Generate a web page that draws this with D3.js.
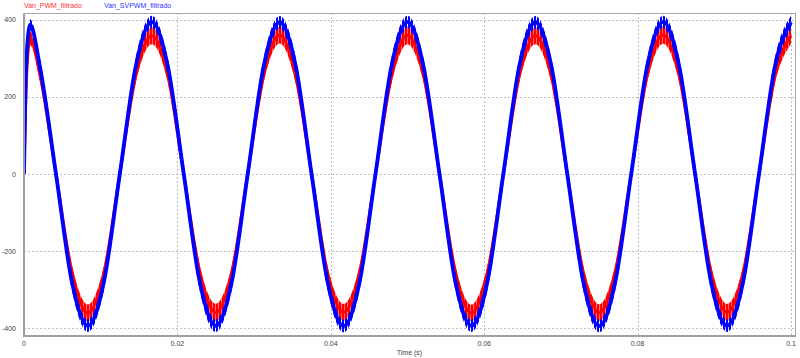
<!DOCTYPE html>
<html lang="en">
<head>
  <meta charset="UTF-8">
  <title>Van PWM vs SVPWM filtrado</title>
  <style>
      body { margin: 0; background: #fff; }
      text { font-family: "Liberation Sans", Arial, sans-serif; }
      .grid line {
          stroke: #bdbdbd;
          stroke-dasharray: 2,2;
          shape-rendering: crispEdges;
      }
      .tick-label { font-size: 7px; fill: #444; }
  </style>
</head>
<body>
<div id="chart"></div>
<script src="https://d3js.org/d3.v7.min.js"></script>
<script>
  // time samples (s)
  const timeS = [0, 0.0003, 0.0008,
    0.00208, 0.00417, 0.00625, 0.00833, 0.01042, 0.0125, 0.01458,
    0.01667, 0.01875, 0.02083, 0.02292, 0.025, 0.02708, 0.02917, 0.03125,
    0.03333, 0.03542, 0.0375, 0.03958, 0.04167, 0.04375, 0.04583, 0.04792,
    0.05, 0.05208, 0.05417, 0.05625, 0.05833, 0.06042, 0.0625, 0.06458,
    0.06667, 0.06875, 0.07083, 0.07292, 0.075, 0.07708, 0.07917, 0.08125,
    0.08333, 0.08542, 0.0875, 0.08958, 0.09167, 0.09375, 0.09583, 0.09792,
    0.1];

  // Van_PWM_filtrado: mean value and ripple half-band (V)
  const pwmMid = [0, 240, 352,
    258, 0, -254, -361, -257, 2, 255,
    359, 256, -1, -255, -360, -256, 1, 256,
    361, 254, 0, -257, -359, -255, 0, 254,
    360, 257, 1, -255, -361, -256, -1, 255,
    359, 255, 0, -256, -360, -254, 1, 256,
    361, 256, -1, -255, -359, -257, 0, 255,
    360];
  const pwmRipple = [0, 10, 18,
    17, 12, 17, 22, 18, 12, 17,
    22, 17, 12, 18, 23, 17, 12, 17,
    22, 18, 12, 17, 22, 17, 12, 18,
    23, 17, 12, 17, 22, 18, 12, 17,
    22, 17, 12, 18, 22, 17, 12, 17,
    23, 18, 12, 17, 22, 17, 12, 18,
    22];

  // Van_SVPWM_filtrado
  const svpwmMid = [0, 290, 388,
    278, 0, -281, -394, -280, 1, 281,
    395, 280, 0, -281, -394, -281, 0, 280,
    394, 281, -1, -280, -395, -281, 0, 281,
    395, 280, 0, -281, -394, -280, 1, 281,
    394, 281, 0, -280, -395, -281, 0, 280,
    395, 280, 0, -281, -394, -281, 0, 281,
    394];
  const svpwmRipple = [0, 12, 14,
    21, 16, 21, 16, 21, 16, 21,
    16, 21, 16, 22, 16, 21, 16, 21,
    16, 22, 16, 21, 16, 21, 16, 22,
    16, 21, 16, 21, 16, 22, 16, 21,
    16, 21, 16, 22, 16, 21, 16, 21,
    16, 22, 16, 21, 16, 21, 16, 22,
    16];

  const xTicks = [0, 0.02, 0.04, 0.06, 0.08, 0.1];
  const xTickLabels = ["0", "0.02", "0.04", "0.06", "0.08", "0.1"];
  const yTicks = [-400, -200, 0, 200, 400];

  const width = 800, height = 358;
  const plot = {left: 24, right: 795, top: 13, bottom: 335};

  const svg = d3.select("#chart").append("svg")
    .attr("width", width)
    .attr("height", height);

  const x = d3.scaleLinear()
    .domain([0, 0.1])
    .range([plot.left, 791]);

  const y = d3.scaleLinear()
    .domain([-418, 418])
    .range([plot.bottom, plot.top]);

  // grid
  const grid = svg.append("g").attr("class", "grid");
  grid.selectAll(".gx")
    .data(xTicks.slice(1))
    .enter().append("line")
    .attr("x1", d => Math.round(x(d)) + 0.5)
    .attr("x2", d => Math.round(x(d)) + 0.5)
    .attr("y1", plot.top)
    .attr("y2", plot.bottom);
  grid.selectAll(".gy")
    .data(yTicks)
    .enter().append("line")
    .attr("x1", plot.left)
    .attr("x2", plot.right)
    .attr("y1", d => Math.round(y(d)) + 0.5)
    .attr("y2", d => Math.round(y(d)) + 0.5);

  svg.append("clipPath").attr("id", "clip")
    .append("rect")
    .attr("x", plot.left + 1)
    .attr("y", plot.top + 1)
    .attr("width", plot.right - plot.left - 1)
    .attr("height", plot.bottom - plot.top - 1);

  const defs = svg.append("defs");
  function stripes(id, fg, bg) {
    const p = defs.append("pattern")
      .attr("id", id)
      .attr("patternUnits", "userSpaceOnUse")
      .attr("width", 3)
      .attr("height", 4);
    if (bg) p.append("rect").attr("width", 3).attr("height", 4).attr("fill", bg);
    p.append("rect").attr("width", 2).attr("height", 4).attr("fill", fg);
  }
  stripes("redStripes", "#ff0000", "#ff7070");
  stripes("blueStripes", "#0000ff", null);

  const traces = svg.append("g").attr("clip-path", "url(#clip)");

  function drawSeries(mid, ripple, color, pattern, lineWidth) {
    const rows = timeS.map((t, i) => ({t: t, mid: mid[i], r: ripple[i]}));
    const area = d3.area()
      .curve(d3.curveMonotoneX)
      .x(d => x(d.t))
      .y0(d => y(d.mid - d.r))
      .y1(d => y(d.mid + d.r));
    const line = d3.line()
      .curve(d3.curveMonotoneX)
      .x(d => x(d.t))
      .y(d => y(d.mid));
    traces.append("path")
      .datum(rows)
      .attr("d", area)
      .attr("fill", `url(#${pattern})`);
    traces.append("path")
      .datum(rows)
      .attr("d", line)
      .attr("fill", "none")
      .attr("stroke", color)
      .attr("stroke-width", lineWidth);
  }

  drawSeries(pwmMid, pwmRipple, "#ff0000", "redStripes", 3);
  drawSeries(svpwmMid, svpwmRipple, "#0000ff", "blueStripes", 3.8);

  // frame
  svg.append("rect")
    .attr("x", plot.left + 0.5)
    .attr("y", plot.top + 0.5)
    .attr("width", plot.right - plot.left)
    .attr("height", plot.bottom - plot.top)
    .attr("fill", "none")
    .attr("stroke", "#a8a8a8");
  svg.append("path")
    .attr("d", `M${plot.left},${plot.top} V${plot.bottom + 1} H${plot.right + 1}`)
    .attr("fill", "none")
    .attr("stroke", "#a0a0a0")
    .attr("stroke-width", 2);

  // tick labels
  svg.selectAll(".ylab")
    .data(yTicks)
    .enter().append("text")
    .attr("class", "tick-label")
    .attr("x", 16)
    .attr("y", d => y(d) + 2.5)
    .attr("text-anchor", "end")
    .text(d => d);

  svg.selectAll(".xlab")
    .data(xTicks)
    .enter().append("text")
    .attr("class", "tick-label")
    .attr("x", d => x(d))
    .attr("y", 346)
    .attr("text-anchor", "middle")
    .text((d, i) => xTickLabels[i]);

  svg.append("text")
    .attr("class", "tick-label")
    .attr("x", (plot.left + plot.right) / 2)
    .attr("y", 355)
    .attr("text-anchor", "middle")
    .text("Time (s)");

  // legend
  svg.append("text")
    .attr("x", 24)
    .attr("y", 8)
    .style("font-size", "7px")
    .attr("fill", "#ff3333")
    .text("Van_PWM_filtrado");
  svg.append("text")
    .attr("x", 104)
    .attr("y", 8)
    .style("font-size", "7px")
    .attr("fill", "#3333ff")
    .text("Van_SVPWM_filtrado");
</script>
</body>
</html>
